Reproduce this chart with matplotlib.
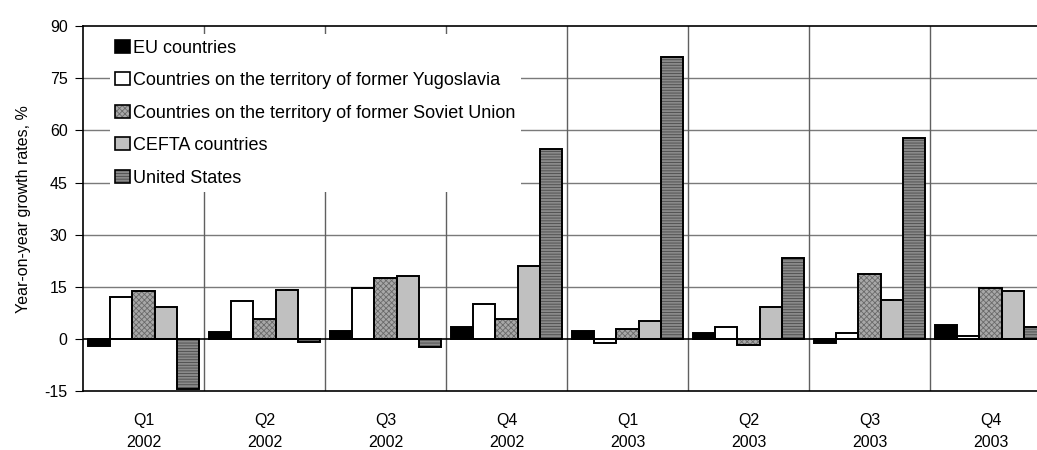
import matplotlib
matplotlib.use("Agg")
import matplotlib.pyplot as plt
import numpy as np
from matplotlib.patches import Patch
from matplotlib.legend_handler import HandlerTuple

plt.rcParams['font.family'] = ['Liberation Sans', 'DejaVu Sans']
plt.rcParams['hatch.linewidth'] = 0.6
plt.rcParams['axes.unicode_minus'] = False

# Data
quarters = ["Q1\n2002", "Q2\n2002", "Q3\n2002", "Q4\n2002",
            "Q1\n2003", "Q2\n2003", "Q3\n2003", "Q4\n2003"]
series_names = ["EU countries",
                "Countries on the territory of former Yugoslavia",
                "Countries on the territory of former Soviet Union",
                "CEFTA countries",
                "United States"]
eu = [-1.9, 1.9, 2.4, 3.5, 2.4, 1.8, -1.3, 4.1]
yugoslavia = [12.0, 10.8, 14.7, 10.1, -1.2, 3.4, 1.7, 0.7]
soviet = [13.7, 5.7, 17.5, 5.7, 2.9, -1.7, 18.8, 14.7]
cefta = [9.1, 14.1, 18.1, 21.0, 5.1, 9.1, 11.3, 13.7]
usa = [-14.5, -0.8, -2.4, 54.5, 81.0, 23.2, 57.8, 3.4]
series = [eu, yugoslavia, soviet, cefta, usa]

# fill, hatch, hatch colour per series
styles = [("black", "", "black"),
          ("white", "", "white"),
          ("#a8a8a8", "xxxxxx", "#6a6a6a"),
          ("#c0c0c0", "", "#c0c0c0"),
          ("#8a8a8a", "------", "#4a4a4a")]

fig = plt.figure(figsize=(10.37, 4.5), dpi=100)
ax = fig.add_axes([0.080, 0.131, 0.9335, 0.811])

x = np.arange(len(quarters))
w = 0.184
handles = []
for i, (vals, (fc, hatch, hc)) in enumerate(zip(series, styles)):
    pos = x + (i - 2) * w
    ax.bar(pos, vals, w, color=fc, hatch=hatch, edgecolor=hc, linewidth=0, zorder=3)
    ax.bar(pos, vals, w, fill=False, edgecolor="black", linewidth=1.4, zorder=4)
    handles.append((Patch(facecolor=fc, hatch=hatch, edgecolor=hc, linewidth=0),
                    Patch(fill=False, edgecolor="black", linewidth=1.2)))

ax.set_xlim(-0.5, 7.5)
ax.set_ylim(-15, 90)
ax.set_yticks(np.arange(-15, 91, 15))
ax.set_xticks(x)
ax.set_xticklabels(quarters, fontsize=11.5, linespacing=1.6)
ax.tick_params(axis='x', length=0, pad=16)
ax.tick_params(axis='y', length=6, labelsize=11.5, pad=5)

# grid: horizontal at value ticks, vertical at category boundaries
for yv in range(15, 90, 15):
    ax.axhline(yv, color="#7a7a7a", linewidth=1, zorder=1)
for xb in np.arange(0.5, 7.5, 1):
    ax.axvline(xb, color="#606060", linewidth=1, zorder=1)
ax.axhline(0, color="black", linewidth=1.2, zorder=5)

for s in ["left", "top", "bottom"]:
    ax.spines[s].set_color("black")
    ax.spines[s].set_linewidth(1.2)
ax.spines["right"].set_visible(False)

ax.set_ylabel("Year-on-year growth rates, %", fontsize=11.5, labelpad=10)

leg = ax.legend(handles, series_names, handler_map={tuple: HandlerTuple(ndivide=1, pad=0)},
                loc="upper left", bbox_to_anchor=(0.028, 0.978), frameon=True,
                fontsize=13, handlelength=0.83, handleheight=0.75, handletextpad=0.15,
                labelspacing=0.86, borderaxespad=0, borderpad=0.3)
leg.get_frame().set_facecolor("white")
leg.get_frame().set_edgecolor("none")
leg.get_frame().set_alpha(1)
leg.set_zorder(6)

fig.savefig("out.png", dpi=100)
